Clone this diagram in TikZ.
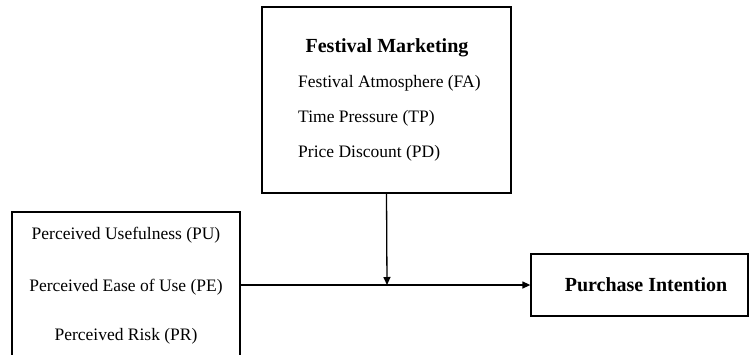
\documentclass[tikz,border=0pt]{standalone}
\usepackage{fontspec}
\setmainfont{Liberation Serif}
\usetikzlibrary{arrows.meta}
\begin{document}
\begin{tikzpicture}[x=1pt,y=-1pt,
  boxline/.style={draw=black,line width=1.3pt},
  conn/.style={line width=1.3pt,-{Triangle[length=8pt,width=7pt]}},
  txt/.style={inner sep=0pt,font=\fontsize{17.5}{20}\selectfont},
  btxt/.style={inner sep=0pt,font=\fontsize{20}{23}\selectfont\bfseries}]
\useasboundingbox (0,0) rectangle (749,354);
% top box
\node[boxline,minimum width=249pt,minimum height=186pt,inner sep=0pt] (fm) at (386.5,100) {};
\node[btxt] (fmt) at (387,48) {Festival Marketing};
\node[txt,anchor=west] (fa) at (298,83) {Festival Atmosphere (FA)};
\node[txt,anchor=west] (tp) at (298,118) {Time Pressure (TP)};
\node[txt,anchor=west] (pd) at (298,153) {Price Discount (PD)};
% left box (bottom cut off)
\draw[boxline] (12,360) -- (12,212) -- (240,212) -- (240,360);
\coordinate (lbr) at (240,285);
\node[txt] (pu) at (126,235) {Perceived Usefulness (PU)};
\node[txt] (pe) at (126,287) {Perceived Ease of Use (PE)};
\node[txt] (pr) at (126,336) {Perceived Risk (PR)};
% purchase intention
\node[boxline,minimum width=217pt,minimum height=62pt,inner sep=0pt] (pi) at (639.5,285) {};
\node[btxt] (pit) at (646,285) {Purchase Intention};
% connectors
\coordinate (mid) at (387,285);
\draw[conn] (lbr) -- (pi.west);
\draw[conn] (fm.south) -- (mid);
\end{tikzpicture}
\end{document}
